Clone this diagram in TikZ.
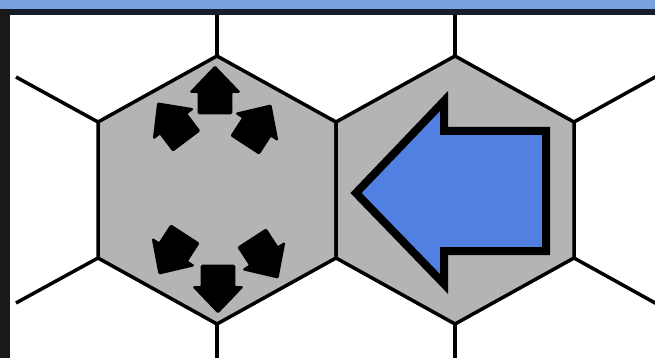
\documentclass[tikz,border=0pt]{standalone}
\definecolor{bandblue}{RGB}{122,160,226}
\definecolor{banddark}{RGB}{22,30,46}
\definecolor{hexgray}{RGB}{180,180,182}
\definecolor{arrowblue}{RGB}{80,128,226}
\tikzset{
  gridline/.style={line width=3.5pt, black},
  hexcell/.style={line width=3.5pt, black, fill=hexgray, line join=miter},
  bigarrow/.style={line width=8pt, black, fill=arrowblue, line join=miter, miter limit=10},
  house/.style={fill=black, draw=black, line width=1.5pt, rounded corners=1pt}
}
\newcommand\housearrow[3]{%
  \begin{scope}[shift={(#1,#2)}, rotate=#3, scale=1.07]
    \filldraw[house] (0,-22) -- (23,2) -- (15.5,2) -- (15.5,22) -- (-15.5,22) -- (-15.5,2) -- (-23,2) -- cycle;
  \end{scope}}
\begin{document}
\begin{tikzpicture}[x=1pt,y=-1pt]
\useasboundingbox (0,0) rectangle (655,358);
\fill[white] (0,0) rectangle (655,358);
% grid lines outside the two cells
\draw[gridline] (98,122) -- (16,77);
\draw[gridline] (98,258) -- (16,303);
\draw[gridline] (217,56) -- (217,14);
\draw[gridline] (455,56) -- (455,14);
\draw[gridline] (217,324) -- (217,360);
\draw[gridline] (455,324) -- (455,360);
\draw[gridline] (574,122) -- (657,76);
\draw[gridline] (574,258) -- (657,304);
% two highlighted cells
\draw[hexcell] (217,56) -- (336,122) -- (336,258) -- (217,324) -- (98,258) -- (98,122) -- cycle;
\draw[hexcell] (455,56) -- (574,122) -- (574,258) -- (455,324) -- (336,258) -- (336,122) -- cycle;
% six small black arrows
\housearrow{215}{90}{0}
\housearrow{172}{122}{37}
\housearrow{258}{125}{-33}
\housearrow{218}{289}{180}
\housearrow{172}{254}{147}
\housearrow{265}{258}{213}
% large blue arrow
\draw[bigarrow] (356,193) -- (444,101) -- (444,131) -- (546,131) -- (546,251) -- (444,251) -- (444,284) -- cycle;
% frame
\fill[bandblue] (0,0) rectangle (655,9);
\fill[banddark] (0,9) rectangle (655,15);
\fill[black!90] (0,9) rectangle (10,358);
\end{tikzpicture}
\end{document}
